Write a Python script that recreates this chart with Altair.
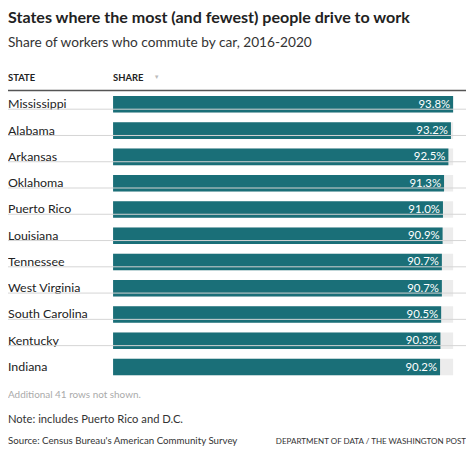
import altair as alt
import pandas as pd

states = ["Mississippi", "Alabama", "Arkansas", "Oklahoma", "Puerto Rico", "Louisiana",
          "Tennessee", "West Virginia", "South Carolina", "Kentucky", "Indiana"]
shares = [93.8, 93.2, 92.5, 91.3, 91.0, 90.9, 90.7, 90.7, 90.5, 90.3, 90.2]
labels = ["93.8%", "93.2%", "92.5%", "91.3%", "91.0%", "90.9%", "90.7%", "90.7%", "90.5%", "90.3%", "90.2%"]

title = "States where the most (and fewest) people drive to work"
subtitle = "Share of workers who commute by car, 2016-2020"
col_state = "STATE"
col_share = "SHARE"
rows_note = "Additional 41 rows not shown."
note = "Note: includes Puerto Rico and D.C."
source = "Source: Census Bureau's American Community Survey"
credit = "DEPARTMENT OF DATA / THE WASHINGTON POST"

FONT = "Lato"
TEAL = "#1a6f78"

df = pd.DataFrame({"state": states, "share": shares, "label": labels,
                   "last": [i == len(states) - 1 for i in range(len(states))]})

yenc = alt.Y("state:N", sort=states, axis=None,
             scale=alt.Scale(range=[82, 373.5], paddingInner=0.37, paddingOuter=0.185))
xscale = alt.Scale(domain=[0, 93.8], range=[106, 449], nice=False, zero=True)

base = alt.Chart(df)

track = base.transform_joinaggregate(maxv="max(share)").mark_bar(color="#ececec").encode(
    x=alt.X("maxv:Q", scale=xscale, axis=None), y=yenc)

bars = base.mark_bar(color=TEAL).encode(
    x=alt.X("share:Q", scale=xscale, axis=None), y=yenc)

vals = base.mark_text(align="right", baseline="middle", dx=-3, dy=0.5, color="white",
                      fontSize=11.5, font=FONT).encode(
    x=alt.X("share:Q", scale=xscale, axis=None), y=yenc, text="label:N")

names = base.mark_text(align="left", baseline="middle", dy=0, color="#222222",
                       fontSize=12.5, font=FONT).encode(
    x=alt.value(0), y=yenc, text="state:N")

seps = base.transform_filter("!datum.last").mark_rule(color="#d4d4d4", strokeWidth=1).encode(
    x=alt.value(0), x2=alt.value(462), y=yenc, yOffset=alt.value(13.25))


def txt(s, x, y, size, color, weight="normal", align="left", font=FONT):
    return alt.Chart(pd.DataFrame({"t": [s]})).mark_text(
        align=align, baseline="alphabetic", fontSize=size, font=font,
        fontWeight=weight, color=color).encode(
        x=alt.value(x), y=alt.value(y), text="t:N")


header_line = alt.Chart(pd.DataFrame({"t": [0]})).mark_rule(
    color="#555555", strokeWidth=1.5).encode(
    x=alt.value(0), x2=alt.value(462), y=alt.value(81.3))

layers = [
    txt(title, 0, 13, 16.2, "#222222", "bold"),
    txt(subtitle, 0, 37, 13.8, "#333333"),
    txt(col_state, 0, 71.5, 9.5, "#222222", "bold"),
    txt(col_share, 106, 71.5, 9.5, "#222222", "bold"),
    txt("\u25BC", 147, 70, 6, "#bbbbbb"),
    header_line,
    track, bars, vals, names, seps,
    txt(rows_note, 0, 391.5, 10, "#aaaaaa"),
    txt(note, 0, 417, 11.3, "#333333"),
    txt(source, 0, 438, 9.8, "#333333"),
    txt(credit, 462, 438, 8.1, "#333333", align="right"),
]

chart = alt.layer(*layers).properties(
    width=462, height=442, padding=0, autosize=alt.AutoSizeParams(type="none")
).configure_view(stroke=None)

chart.save("out.html", embed_options={"renderer": "svg", "actions": False})
